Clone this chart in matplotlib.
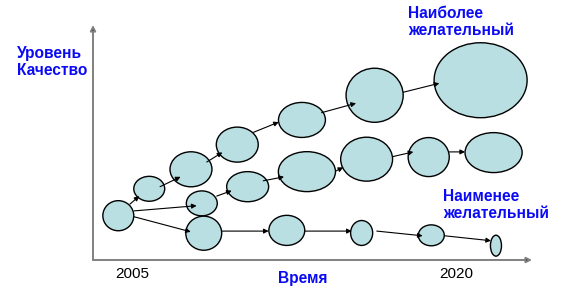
import matplotlib
matplotlib.use("Agg")
import matplotlib.pyplot as plt
from matplotlib.patches import Ellipse

plt.rcParams['font.family'] = ['Liberation Sans', 'DejaVu Sans']

# ---- data (x = year, y = level 0..100) ----
ell_x = [2004.37, 2005.80, 2007.73, 2009.87, 2012.86, 2016.22, 2021.12,
         2008.23, 2010.35, 2013.09, 2015.85, 2018.72, 2021.72,
         2008.32, 2012.16, 2015.62, 2018.84, 2021.83]
ell_y = [18.85, 30.3, 38.6, 49.1, 59.6, 70.1, 76.5,
         24.1, 31.2, 37.6, 42.9, 43.8, 45.7,
         11.4, 12.6, 11.5, 10.5, 6.1]
ell_w = [1.43, 1.43, 1.94, 1.94, 2.17, 2.64, 4.30,
         1.43, 1.94, 2.64, 2.40, 1.90, 2.64,
         1.66, 1.66, 1.02, 1.20, 0.51]
ell_h = [12.8, 10.6, 14.9, 14.9, 14.9, 23.0, 31.9,
         10.6, 12.8, 17.0, 18.7, 16.6, 17.0,
         14.5, 12.8, 10.6, 8.9, 8.9]

arr_x0 = [2004.91, 2006.30, 2008.46, 2010.61, 2013.77, 2017.55,
          2005.10, 2005.10, 2008.92, 2011.07, 2014.43, 2017.06, 2019.67,
          2009.16, 2013.00, 2016.32, 2019.46]
arr_y0 = [23.8, 31.2, 41.7, 54.3, 62.7, 71.4,
          20.9, 18.4, 27.2, 33.7, 37.9, 44.0, 46.0,
          12.3, 12.3, 12.3, 10.3]
arr_x1 = [2005.34, 2007.25, 2009.18, 2011.79, 2015.36, 2019.21,
          2007.99, 2007.72, 2009.61, 2012.03, 2014.77, 2018.01, 2020.40,
          2011.32, 2015.16, 2018.44, 2021.60]
arr_y1 = [27.2, 35.4, 45.8, 58.7, 66.7, 75.2,
          23.1, 12.0, 29.5, 35.4, 39.4, 46.0, 46.0,
          12.3, 12.3, 10.3, 8.2]

tick_years = [2005, 2020]
tick_labels = ['2005', '2020']

y_label = 'Уровень\nКачество'
x_label = 'Время'
top_label = 'Наиболее\nжелательный'
bottom_label = 'Наименее\nжелательный'

# ---- figure ----
W, H = 562, 291
fig = plt.figure(figsize=(W / 100, H / 100), dpi=100)
fig.patch.set_facecolor('white')
ax = fig.add_axes([93 / W, (H - 260) / H, (532 - 93) / W, (260 - 25) / H])
ax.set_xlim(2003.2, 2003.2 + 439 / 21.63)
ax.set_ylim(0, 100)
ax.set_facecolor('none')
for s in ax.spines.values():
    s.set_visible(False)
ax.set_yticks([])
ax.set_xticks(tick_years)
ax.set_xticklabels(tick_labels, fontsize=11, color='black')
ax.tick_params(axis='x', length=0, pad=5)

# axes with arrowheads
axis_col = '#808080'
ax.annotate('', xy=(0, 1), xytext=(0, 0), xycoords='axes fraction',
            arrowprops=dict(arrowstyle='-|>', color=axis_col, lw=1.4,
                            mutation_scale=8, shrinkA=0, shrinkB=0,
                            fc='black', ec=axis_col))
ax.annotate('', xy=(1, 0), xytext=(0, 0), xycoords='axes fraction',
            arrowprops=dict(arrowstyle='-|>', color=axis_col, lw=1.4,
                            mutation_scale=8, shrinkA=0, shrinkB=0,
                            fc='black', ec=axis_col))

fill = '#B9DFE2'
for x, y, w, h in zip(ell_x, ell_y, ell_w, ell_h):
    ax.add_patch(Ellipse((x, y), w, h, facecolor=fill, edgecolor='black',
                         lw=1.0, zorder=2))

for x0, y0, x1, y1 in zip(arr_x0, arr_y0, arr_x1, arr_y1):
    ax.annotate('', xy=(x1, y1), xytext=(x0, y0),
                arrowprops=dict(arrowstyle='-|>', color='black', lw=0.8,
                                mutation_scale=7, shrinkA=0, shrinkB=0),
                zorder=3)

blue = '#0A0AF5'
fs = 11.2
fig.text(17 / W, 1 - 62 / H, y_label, color=blue, fontsize=fs,
         fontweight='bold', ha='left', va='center', linespacing=1.2)
fig.text(408 / W, 1 - 22 / H, top_label, color=blue, fontsize=fs,
         fontweight='bold', ha='left', va='center', linespacing=1.2)
fig.text(443 / W, 1 - 205 / H, bottom_label, color=blue, fontsize=fs,
         fontweight='bold', ha='left', va='center', linespacing=1.2)
fig.text(302.5 / W, 1 - 279 / H, x_label, color=blue, fontsize=fs,
         fontweight='bold', ha='center', va='center')

fig.savefig('out.png', dpi=100, facecolor='white')
